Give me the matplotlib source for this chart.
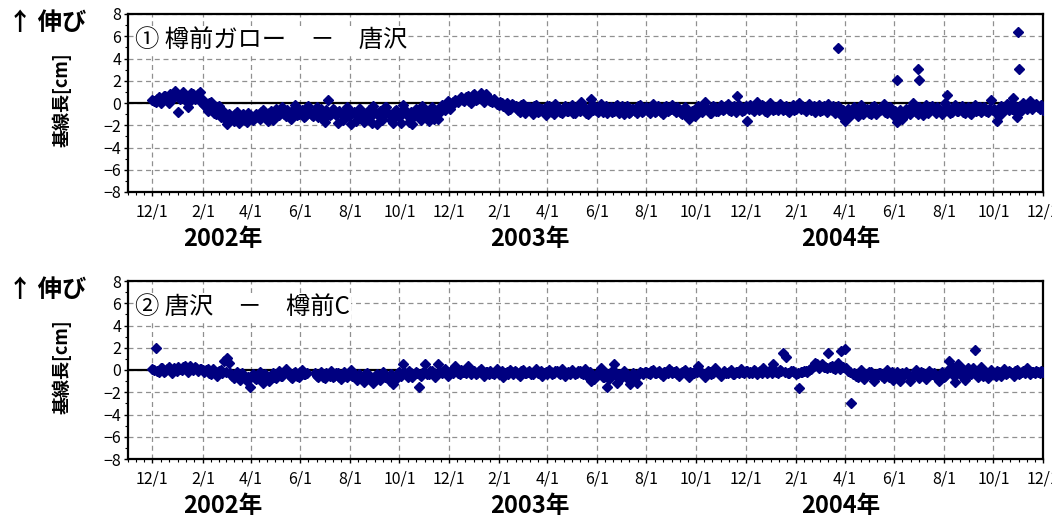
import matplotlib
matplotlib.use('Agg')
import matplotlib.pyplot as plt
import matplotlib.dates as mdates
import matplotlib.transforms as mtransforms
from matplotlib.ticker import MultipleLocator
import numpy as np
import pandas as pd

plt.rcParams['font.family'] = ['Noto Sans CJK JP', 'DejaVu Sans']

# ---------------- data ----------------
# observations every 4 days in two interleaved series (offset by 2 days)
start_a = '2001-12-01'
start_b = '2001-12-03'
step = '4D'

# Panel 1: 樽前ガロー - 唐沢  (baseline length change, cm)
top_vals_a = [
    0.3, 0.1, 0.5, 0.2, 0.6, 0.0, 0.4, 1.1,
    -0.8, 0.7, 0.3, -0.4, 0.9, 0.4, 0.8, 0.1,
    -0.2, -0.7, 0.1, -0.9, -0.4, -1.3, -0.8, -1.9,
    -1.2, -1.6, -0.8, -1.4, -1.0, -1.7, -1.1, -1.5,
    -1.0, -1.4, -0.6, -1.2, -0.9, -1.5, -0.5, -1.1,
    -0.4, -1.2, -0.8, -1.3, -0.2, -1.0, -0.6, -1.2,
    -0.3, -1.1, -0.7, -1.3, -0.5, -1.7, 0.3, -1.0,
    -0.6, -1.8, -0.9, -1.4, -0.4, -1.9, -0.8, -1.2,
    -0.5, -1.7, -0.9, -1.3, -0.3, -1.9, -0.7, -1.2,
    -0.4, -1.1, -1.8, -0.6, -1.3, -0.2, -0.9, -1.7,
    -1.9, -0.5, -1.1, -0.3, -0.9, -1.6, -0.4, -1.0,
    -1.4, -0.2, -0.6, 0.2, -0.3, 0.3, 0.1, 0.5,
    0.2, 0.6, 0.0, 0.8, 0.4, 0.9, 0.1, 0.6,
    0.2, 0.4, -0.1, 0.1, -0.3, 0.0, -0.5, -0.2,
    -0.3, -0.8, -0.1, -0.6, -0.4, -1.0, -0.2, -0.7,
    -0.5, -1.1, -0.3, -0.8, -0.1, -0.6, -0.9, -0.3,
    -0.7, -0.2, -0.9, -0.4, 0.1, -0.6, -1.0, 0.4,
    -0.3, -0.8, -0.1, -0.6, -0.9, -0.4, -0.7, -0.2,
    -0.6, -1.0, -0.3, -0.8, -0.5, -0.9, -0.2, -0.7,
    -0.4, -0.9, -0.1, -0.7, -0.5, -1.0, -0.3, -0.6,
    -0.2, -0.8, -0.5, -1.0, -0.4, -1.4, -0.7, -1.2,
    -0.3, -0.8, 0.1, -0.6, -0.9, -0.4, -0.7, -0.2,
    -0.5, -0.1, -0.7, -0.3, 0.6, -0.4, -0.6, -1.6,
    -0.2, -0.7, 0.1, -0.5, -0.3, -0.8, 0.0, -0.6,
    -0.4, -0.1, -0.6, -0.3, -0.8, -0.2, -0.5, 0.0,
    -0.3, -0.7, -0.1, -0.5, -0.8, -0.2, -0.6, -0.4,
    -0.1, -0.6, -0.9, -0.3, -1.1, -1.6, -0.5, -1.0,
    -0.4, -1.2, -0.2, -0.8, -0.5, -1.0, -0.3, -0.7,
    -0.6, -0.1, -0.9, -0.4, -1.1, -1.7, -0.6, -1.3,
    -0.5, -1.0, 0.0, -0.8, -0.4, -1.1, -0.2, -0.7,
    -0.3, -0.9, -0.5, -1.0, 0.0, -0.6, -0.8, -0.2,
    -0.7, -0.3, -0.9, -0.4, -1.0, -0.2, -0.6, -0.8,
    -0.4, -0.8, 0.3, -0.5, -1.6, -0.3, -0.7, -0.1,
    -0.2, -0.6, -1.3, -0.3, 0.0, -0.5, 0.2, -0.4,
    -0.1, -0.5, -0.6,
]
top_vals_b = [
    0.2, 0.4, 0.0, 0.6, 0.3, 0.8, 0.5, 0.7,
    0.4, 1.0, 0.6, 0.2, 0.8, 0.5, 1.0, 0.3,
    -0.4, 0.0, -0.6, -1.0, -0.3, -1.1, -1.5, -1.0,
    -1.4, -1.0, -1.8, -1.3, -1.5, -0.9, -1.4, -1.2,
    -1.3, -0.8, -1.1, -1.6, -0.7, -1.2, -1.0, -0.6,
    -1.0, -0.6, -1.4, -0.5, -1.1, -0.7, -1.3, -0.4,
    -0.8, -1.2, -0.4, -1.0, -1.4, -0.6, -1.1, -0.5,
    -1.1, -0.7, -1.5, -0.6, -1.2, -0.9, -1.6, -0.5,
    -1.0, -1.4, -0.6, -1.8, -0.8, -1.1, -1.5, -0.4,
    -0.9, -1.5, -0.7, -1.0, -1.8, -0.5, -1.2, -0.8,
    -1.2, -0.7, -1.5, -0.6, -1.2, -0.8, -1.4, -0.6,
    -0.8, -0.4, -0.1, -0.5, 0.1, 0.2, 0.4, 0.3,
    0.5, 0.2, 0.7, 0.3, 0.6, 0.4, 0.8, 0.3,
    0.1, 0.2, -0.2, 0.0, -0.3, -0.6, -0.1, -0.4,
    -0.6, -0.2, -0.9, -0.4, -0.7, -0.3, -0.8, -0.5,
    -0.8, -0.3, -0.6, -1.0, -0.4, -0.8, -0.5, -0.7,
    -0.4, -0.9, -0.5, -0.7, -0.3, -0.9, -0.4, -0.6,
    -0.6, -0.4, -0.8, -0.3, -0.6, -0.8, -0.3, -0.9,
    -0.3, -0.7, -0.9, -0.5, -0.7, -0.3, -0.8, -0.5,
    -0.7, -0.4, -0.8, -0.3, -0.8, -0.4, -0.7, -0.5,
    -0.6, -0.4, -0.9, -0.6, -1.2, -0.8, -1.0, -0.5,
    -0.7, -0.4, -0.5, -0.9, -0.3, -0.7, -0.5, -0.6,
    -0.3, -0.6, -0.4, -0.8, -0.2, -0.7, -0.3, -0.5,
    -0.5, -0.3, -0.6, -0.2, -0.7, -0.4, -0.3, -0.5,
    -0.6, -0.3, -0.5, -0.7, -0.4, -0.6, -0.2, -0.5,
    -0.5, -0.4, -0.6, -0.3, -0.5, -0.7, -0.3, -0.8,
    -0.5, -0.3, -0.7, -0.8, -0.6, -0.9, -1.2, -0.7,
    -0.8, -0.5, -1.0, -0.6, -0.9, -0.4, -1.0, -0.5,
    -0.4, -0.8, -0.6, -0.9, -0.7, -1.0, -1.4, -0.8,
    -0.8, -0.4, -0.6, -1.0, -0.7, -0.5, -0.9, -0.4,
    -0.6, -0.4, -0.8, -0.6, -0.4, -0.9, -0.5, -0.7,
    -0.5, -0.8, -0.6, -0.9, -0.5, -0.7, -0.4, -0.6,
    -0.7, -0.5, -0.6, -0.9, -1.2, -0.6, -0.4, -0.6,
    -0.5, -0.3, -0.8, -0.6, -0.4, -0.2, -0.5, -0.3,
    -0.4, -0.2, -0.5,
]
top_out_dates = ['2004-03-24', '2004-06-04', '2004-06-30', '2004-07-01',
                 '2004-08-05', '2004-10-25', '2004-10-31', '2004-11-01']
top_out_vals = [4.9, 2.1, 3.1, 2.1, 0.75, 0.45, 6.4, 3.1]

# Panel 2: 唐沢 - 樽前C
bot_vals_a = [
    0.1, 2.0, -0.2, 0.2, -0.1, 0.3, -0.3, 0.1,
    0.3, 0.0, 0.4, -0.2, 0.2, 0.3, -0.1, 0.1,
    -0.2, 0.1, -0.4, -0.1, -0.5, 0.0, 0.8, 1.1,
    -0.3, -0.7, -0.2, -0.9, -0.5, -1.0, -1.5, -0.4,
    -0.8, -0.2, -1.2, -0.6, -1.0, -0.3, -0.7, -0.1,
    -0.5, 0.1, -0.4, -0.7, -0.2, -0.6, 0.0, -0.4,
    np.nan, np.nan, -0.3, -0.6, -0.2, -0.7, -0.4, -0.1,
    -0.5, -0.3, -0.8, -0.2, -0.6, 0.0, -0.4, -0.9,
    -0.6, -1.1, -0.3, -0.8, -1.2, -0.4, -0.9, -0.2,
    -0.5, -1.0, -1.3, -0.6, -0.2, 0.5, -0.4, -0.1,
    -0.6, -0.2, -1.5, -0.3, 0.5, -0.4, -0.1, -0.6,
    0.5, -0.3, 0.1, -0.5, -0.2, 0.4, -0.3, 0.0,
    -0.2, 0.4, -0.4, -0.1, -0.3, 0.1, -0.5, -0.2,
    -0.1, -0.4, 0.1, -0.3, -0.6, -0.2, 0.0, -0.4,
    -0.2, -0.5, 0.0, -0.3, -0.1, -0.4, 0.1, -0.3,
    -0.5, -0.2, 0.0, -0.4, -0.1, -0.3, 0.1, -0.5,
    -0.2, 0.0, -0.4, -0.1, -0.3, 0.1, -0.6, -1.0,
    -0.8, -0.3, 0.2, -0.6, -1.5, -0.2, 0.5, -1.2,
    -0.4, -0.1, -0.6, -1.3, -0.3, -1.2, -0.2, -0.4,
    -0.2, -0.4, 0.0, -0.3, -0.1, -0.5, -0.2, 0.1,
    -0.3, -0.1, -0.5, -0.2, 0.0, -0.6, -0.3, -0.1,
    0.4, -0.3, -0.6, -0.1, -0.4, 0.2, -0.2, -0.5,
    -0.1, -0.3, 0.0, -0.4, -0.2, 0.1, -0.3, -0.1,
    -0.2, 0.0, -0.4, -0.1, 0.2, -0.3, 0.0, 0.5,
    -0.2, 0.0, 1.5, 1.2, -0.3, -0.1, -0.4, -1.6,
    -0.2, -0.1, 0.0, 0.3, 0.6, 0.2, 0.5, 0.3,
    1.5, 0.4, 0.1, 0.6, 1.7, 1.9, -0.1, -3.0,
    -0.3, -0.6, 0.0, -0.8, -0.4, -0.2, -1.0, -0.5,
    -0.3, -0.7, 0.0, -0.4, -0.9, -0.2, -1.0, -0.5,
    -0.2, -1.0, -0.5, 0.0, -0.7, -0.3, -0.8, -0.1,
    -0.4, -0.6, -1.0, -0.2, -0.5, 0.8, 0.3, -1.1,
    0.5, -0.2, -0.9, 0.2, -0.4, 1.8, -0.6, 0.3,
    -0.3, -0.7, 0.0, -0.4, -0.1, -0.5, 0.1, -0.3,
    -0.2, -0.5, 0.0, -0.3, -0.1, 0.2, -0.4, -0.2,
    -0.1, -0.3, -0.2,
]
bot_vals_b = [
    0.0, -0.1, 0.2, -0.2, 0.1, 0.0, 0.2, -0.1,
    0.1, 0.3, 0.2, 0.4, 0.0, 0.2, 0.1, 0.0,
    0.0, -0.3, 0.1, -0.2, -0.1, -0.3, -0.2, 0.6,
    -0.5, -0.4, -0.6, -0.3, -0.7, -0.6, -0.5, -0.7,
    -0.5, -0.6, -0.4, -0.8, -0.5, -0.6, -0.4, -0.5,
    -0.3, -0.2, -0.6, -0.3, -0.5, -0.2, -0.4, -0.3,
    np.nan, np.nan, -0.5, -0.4, -0.6, -0.3, -0.5, -0.6,
    -0.3, -0.6, -0.4, -0.5, -0.3, -0.5, -0.7, -0.4,
    -0.8, -0.4, -0.6, -1.0, -0.5, -0.7, -0.4, -0.6,
    -0.7, -0.4, -0.9, -0.3, -0.5, -0.2, -0.6, -0.3,
    -0.4, -0.3, -0.5, -0.2, -0.4, -0.1, -0.3, -0.4,
    -0.2, -0.1, -0.4, -0.2, -0.3, 0.0, -0.4, -0.2,
    -0.3, -0.1, -0.2, -0.4, -0.1, -0.3, -0.2, -0.4,
    -0.3, -0.2, -0.4, -0.1, -0.3, -0.4, -0.2, -0.1,
    -0.4, -0.1, -0.3, -0.2, -0.4, -0.2, -0.3, -0.1,
    -0.3, -0.4, -0.2, -0.3, -0.1, -0.4, -0.2, -0.3,
    -0.4, -0.2, -0.3, -0.1, -0.4, -0.3, -0.2, -0.5,
    -0.5, -0.2, -0.6, -0.3, -0.8, -0.4, -0.3, -0.7,
    -0.6, -0.3, -0.9, -0.5, -0.7, -0.4, -0.3, -0.2,
    -0.3, -0.1, -0.3, -0.2, -0.4, -0.2, -0.3, -0.1,
    -0.2, -0.4, -0.3, -0.1, -0.4, -0.2, -0.3, -0.2,
    -0.2, -0.4, -0.3, -0.2, -0.3, -0.1, -0.4, -0.3,
    -0.3, -0.2, -0.4, -0.2, -0.3, -0.2, -0.1, -0.3,
    -0.3, -0.1, -0.2, -0.3, -0.1, -0.2, -0.3, -0.1,
    -0.3, -0.1, -0.2, -0.3, -0.1, -0.2, -0.3, -0.2,
    -0.1, -0.2, 0.1, 0.4, 0.5, 0.4, 0.3, 0.2,
    0.3, 0.2, 0.4, 0.1, 0.3, 0.2, -0.2, -0.4,
    -0.5, -0.3, -0.6, -0.4, -0.2, -0.5, -0.4, -0.3,
    -0.5, -0.3, -0.6, -0.2, -0.4, -0.6, -0.3, -0.4,
    -0.4, -0.6, -0.3, -0.5, -0.2, -0.5, -0.4, -0.3,
    -0.3, -0.5, -0.4, -0.6, -0.3, 0.2, -0.5, -0.3,
    -0.4, 0.1, -0.5, -0.3, 0.2, -0.4, -0.2, -0.5,
    -0.2, -0.4, -0.3, -0.5, -0.2, -0.3, -0.4, -0.1,
    -0.3, -0.1, -0.4, -0.2, -0.3, -0.1, -0.2, -0.3,
    -0.2, -0.1, -0.3,
]

xtick_dates = ['2001-12-01', '2002-02-01', '2002-04-01', '2002-06-01', '2002-08-01',
               '2002-10-01', '2002-12-01', '2003-02-01', '2003-04-01', '2003-06-01',
               '2003-08-01', '2003-10-01', '2003-12-01', '2004-02-01', '2004-04-01',
               '2004-06-01', '2004-08-01', '2004-10-01', '2004-12-01']
xtick_labels = ['12/1', '2/1', '4/1', '6/1', '8/1', '10/1', '12/1', '2/1', '4/1', '6/1',
                '8/1', '10/1', '12/1', '2/1', '4/1', '6/1', '8/1', '10/1', '12/1']
year_labels = ['2002年', '2003年', '2004年']
year_label_dates = ['2002-02-26', '2003-03-11', '2004-03-27']

panel_titles = ['① 樽前ガロー　－　唐沢', '② 唐沢　－　樽前C']
ylabel_text = '基線長[cm]'
up_text = '↑ 伸び'

# ---------------- plot ----------------
navy = '#000080'
W, H = 1052, 525
fig = plt.figure(figsize=(W / 100, H / 100), dpi=100)

panels = [
    (top_vals_a, top_vals_b, top_out_dates, top_out_vals, 14, 192),
    (bot_vals_a, bot_vals_b, [], [], 281, 459),
]

xt = pd.to_datetime(xtick_dates)
for i, (va, vb, od, ov, ytop, ybot) in enumerate(panels):
    left, right = 128, 1043
    ax = fig.add_axes([left / W, 1 - ybot / H, (right - left) / W, (ybot - ytop) / H])
    da = pd.date_range(start_a, periods=len(va), freq=step)
    db = pd.date_range(start_b, periods=len(vb), freq=step)
    ax.axhline(0, color='black', lw=1.6, zorder=2)
    mk = dict(ls='none', marker='D', ms=4.6, color=navy, mec=navy, zorder=3)
    ax.plot(da, va, **mk)
    ax.plot(db, vb, **mk)
    if len(od):
        ax.plot(pd.to_datetime(od), ov, **mk)
    ax.set_xlim(pd.Timestamp('2001-11-01'), pd.Timestamp('2004-12-01'))
    ax.set_ylim(-8, 8)
    ax.set_yticks(range(-8, 9, 2))
    ax.set_xticks(xt)
    ax.set_xticklabels(xtick_labels)
    ax.xaxis.set_minor_locator(mdates.DayLocator(bymonthday=[1, 11, 21]))
    ax.yaxis.set_minor_locator(MultipleLocator(1))
    ax.grid(True, which='major', ls=(0, (4, 3)), color='#909090', lw=0.9)
    ax.set_axisbelow(True)
    for s in ax.spines.values():
        s.set_linewidth(1.6)
        s.set_color('black')
    ax.tick_params(which='major', direction='out', length=3, width=1,
                   labelsize=11.5, pad=5)
    ax.tick_params(axis='y', which='major', pad=2, labelsize=11.5)
    ax.tick_params(which='minor', direction='out', length=2, width=0.8)

    ax.text(0.008, 0.855, panel_titles[i], transform=ax.transAxes, fontsize=17.5,
            va='center', ha='left', zorder=4,
            bbox=dict(fc='white', ec='none', pad=0.5))

    trans = mtransforms.blended_transform_factory(ax.transData, ax.transAxes)
    for lbl, d in zip(year_labels, year_label_dates):
        ax.text(pd.Timestamp(d), -0.265, lbl, transform=trans, ha='center', va='center',
                fontsize=17, fontweight='bold')

    fig.text(8 / W, 1 - (ytop + 9) / H, up_text, fontsize=17.5, fontweight='bold',
             ha='left', va='center')
    fig.text(62 / W, 1 - (ytop + 86) / H, ylabel_text, fontsize=13, fontweight='bold',
             rotation=90, ha='center', va='center')

fig.savefig('out.png', dpi=100)
